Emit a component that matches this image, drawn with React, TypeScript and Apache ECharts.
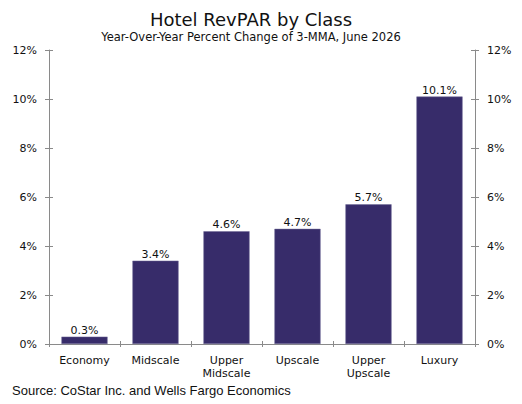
import React, { useEffect, useRef } from "react";
import * as echarts from "echarts";

const categories = ["Economy", "Midscale", "Upper\nMidscale", "Upscale", "Upper\nUpscale", "Luxury"];
const revparChange = [0.3, 3.4, 4.6, 4.7, 5.7, 10.1];
const yMin = 0;
const yMax = 12;
const yInterval = 2;

const titleText = "Hotel RevPAR by Class";
const subtitleText = "Year-Over-Year Percent Change of 3-MMA, June 2026";
const sourceText = "Source: CoStar Inc. and Wells Fargo Economics";

const FONT = "DejaVu Sans, Verdana, sans-serif";

export default function App() {
  const ref = useRef<HTMLDivElement>(null);
  useEffect(() => {
    if (!ref.current) return;
    const chart = echarts.init(ref.current, null, { renderer: "svg" });
    const axisLineStyle = { color: "#8a8a8a", width: 1 };
    const labelStyle = { color: "#111", fontFamily: FONT, fontSize: 11 };
    const yBase = (position: "left" | "right", withLabels: boolean, inside: boolean) => ({
      type: "value" as const,
      position,
      min: yMin,
      max: yMax,
      interval: yInterval,
      splitLine: { show: false },
      axisLine: { show: withLabels, lineStyle: axisLineStyle },
      axisTick: { show: true, inside, length: 4, lineStyle: axisLineStyle },
      axisLabel: {
        show: withLabels,
        formatter: "{value}%",
        margin: 12,
        ...labelStyle,
      },
    });
    chart.setOption({
      animation: false,
      backgroundColor: "#ffffff",
      title: [
        {
          text: titleText,
          left: 251,
          top: 10,
          padding: 0,
          textAlign: "center",
          textStyle: { fontFamily: FONT, fontSize: 18, fontWeight: "normal", color: "#111" },
        },
        {
          text: subtitleText,
          left: 251,
          top: 31,
          padding: 0,
          textAlign: "center",
          textStyle: { fontFamily: FONT, fontSize: 11.5, fontWeight: "normal", color: "#111" },
        },
        {
          text: sourceText,
          left: 12,
          top: 384,
          padding: 0,
          textStyle: {
            fontFamily: "Liberation Sans, Arial, sans-serif",
            fontSize: 13,
            fontWeight: "normal",
            color: "#111",
          },
        },
      ],
      grid: { left: 49, right: 47, top: 50, bottom: 60, containLabel: false },
      xAxis: [
        {
          type: "category",
          data: categories,
          position: "bottom",
          axisLine: { show: true, lineStyle: axisLineStyle },
          axisTick: { show: true, length: 3, lineStyle: axisLineStyle },
          axisLabel: { ...labelStyle, margin: 10, lineHeight: 13 },
        },
        {
          type: "category",
          data: categories,
          position: "bottom",
          axisLine: { show: false },
          axisTick: { show: true, inside: true, length: 3, lineStyle: axisLineStyle },
          axisLabel: { show: false },
        },
      ],
      yAxis: [
        yBase("left", true, false),
        yBase("left", false, true),
        yBase("right", true, false),
        yBase("right", false, true),
      ],
      series: [
        {
          type: "bar",
          data: revparChange,
          xAxisIndex: 0,
          yAxisIndex: 0,
          barWidth: "65%",
          itemStyle: { color: "#372c6a", borderColor: "#6f6896", borderWidth: 0.5 },
          label: {
            show: true,
            position: "top",
            distance: 1,
            formatter: (p: any) => `${Number(p.value).toFixed(1)}%`,
            ...labelStyle,
          },
        },
      ],
    });
    return () => chart.dispose();
  }, []);
  return (
    <div
      ref={ref}
      style={{ position: "fixed", left: 0, top: 0, width: 522, height: 404, background: "#fff" }}
    />
  );
}
